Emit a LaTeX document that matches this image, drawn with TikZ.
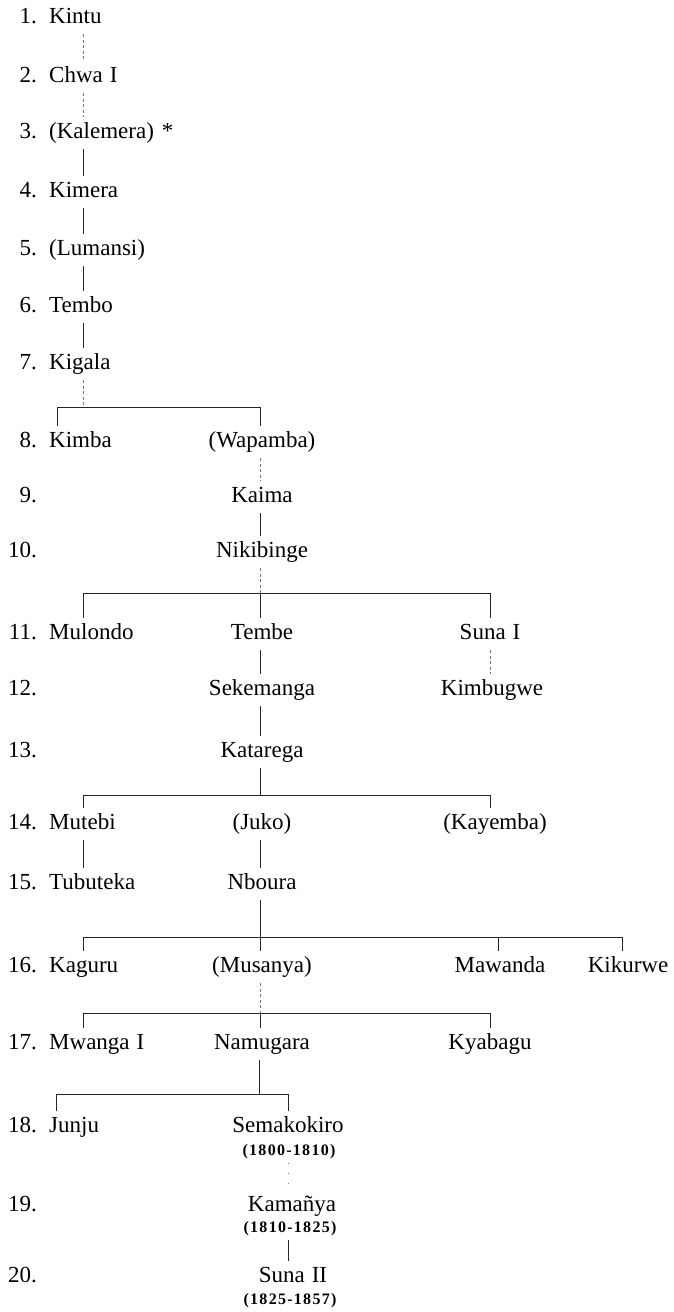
\documentclass[tikz,border=0pt]{standalone}
\usepackage{fontspec}
\setmainfont{Liberation Serif}
\newfontfamily\datefont[LetterSpace=8]{Liberation Serif}
\begin{document}
\begin{tikzpicture}[x=1pt,y=-1pt,
  nm/.style={font=\fontsize{23}{27}\selectfont, inner xsep=0pt, inner ysep=6pt, text height=15pt, text depth=5pt},
  num/.style={nm, anchor=base east},
  lft/.style={nm, anchor=base west},
  ctr/.style={nm, anchor=base},
  dt/.style={font=\datefont\bfseries\fontsize{16}{19}\selectfont, inner xsep=0pt, inner ysep=5pt, text height=11pt, text depth=3pt, anchor=base},
  sol/.style={line width=0.8pt, black!85},
  fnt/.style={line width=0.6pt, black!55, dash pattern=on 3pt off 2.5pt},
  dots/.style={line width=0.8pt, black!50, dash pattern=on 1pt off 9pt}]
\useasboundingbox (0,0) rectangle (673,1312);
% column coordinates
\coordinate (cL) at (83,0);
\coordinate (cM) at (260,0);
% row numbers
\foreach \n/\y in {1/23,2/82,3/138,4/197,5/255,6/312,7/369,8/447,9/502,10/557,11/639,12/695,13/757,14/829,15/889,16/972,17/1049,18/1132,19/1211,20/1282}
  \node[num] (n\n) at (37,\y) {\n.};
% left column
\node[lft] (kintu) at (49,23) {Kintu};
\node[lft] (chwa) at (49,82) {Chwa\hspace{0.3em}I};
\node[lft] (kalemera) at (49,138) {(Kalemera)\hspace{0.35em}*};
\node[lft] (kimera) at (49,197) {Kimera};
\node[lft] (lumansi) at (49,255) {(Lumansi)};
\node[lft] (tembo) at (49,312) {Tembo};
\node[lft] (kigala) at (49,369) {Kigala};
\node[lft] (kimba) at (49,447) {Kimba};
\node[lft] (mulondo) at (49,639) {Mulondo};
\node[lft] (mutebi) at (49,829) {Mutebi};
\node[lft] (tubuteka) at (49,889) {Tubuteka};
\node[lft] (kaguru) at (49,972) {Kaguru};
\node[lft] (mwanga) at (49,1049) {Mwanga\hspace{0.3em}I};
\node[lft] (junju) at (49,1132) {Junju};
% middle column
\node[ctr] (wapamba) at (262,447) {(Wapamba)};
\node[ctr] (kaima) at (262,502) {Kaima};
\node[ctr] (nikibinge) at (262,557) {Nikibinge};
\node[ctr] (tembe) at (262,639) {Tembe};
\node[ctr] (sekemanga) at (262,695) {Sekemanga};
\node[ctr] (katarega) at (262,757) {Katarega};
\node[ctr] (juko) at (262,829) {(Juko)};
\node[ctr] (nboura) at (262,889) {Nboura};
\node[ctr] (musanya) at (262,972) {(Musanya)};
\node[ctr] (namugara) at (262,1049) {Namugara};
\node[ctr] (semakokiro) at (288,1132) {Semakokiro};
\node[dt] (d1) at (289,1155) {(1800-1810)};
\node[ctr] (kamanya) at (292,1211) {Kamañya};
\node[dt] (d2) at (290,1232) {(1810-1825)};
\node[ctr] (suna2) at (293,1282) {Suna\hspace{0.3em}II};
\node[dt] (d3) at (290,1304) {(1825-1857)};
% right columns
\node[ctr] (suna1) at (490,639) {Suna\hspace{0.3em}I};
\node[ctr] (kimbugwe) at (492,695) {Kimbugwe};
\node[ctr] (kayemba) at (495,829) {(Kayemba)};
\node[ctr] (mawanda) at (500,972) {Mawanda};
\node[ctr] (kikurwe) at (628,972) {Kikurwe};
\node[ctr] (kyabagu) at (490,1049) {Kyabagu};
% bar coordinates
\coordinate (b1l) at (57,407);   \coordinate (b1r) at (260,407);
\coordinate (b2l) at (83,593);   \coordinate (b2m) at (260,593); \coordinate (b2r) at (490,593);
\coordinate (b3l) at (83,795);   \coordinate (b3m) at (260,795); \coordinate (b3r) at (490,795);
\coordinate (b4l) at (83,937);   \coordinate (b4m) at (260,937); \coordinate (b4a) at (498,937); \coordinate (b4r) at (622,937);
\coordinate (b5l) at (83,1013);  \coordinate (b5m) at (260,1013); \coordinate (b5r) at (490,1013);
\coordinate (b6l) at (56,1094);  \coordinate (b6m) at (259,1094); \coordinate (b6r) at (288,1094);
% generations 1-7
\draw[fnt] (kintu.south -| cL) -- (chwa.north -| cL);
\draw[fnt] (chwa.south -| cL) -- (kalemera.north -| cL);
\draw[sol] (kalemera.south -| cL) -- (kimera.north -| cL);
\draw[sol] (kimera.south -| cL) -- (lumansi.north -| cL);
\draw[sol] (lumansi.south -| cL) -- (tembo.north -| cL);
\draw[sol] (tembo.south -| cL) -- (kigala.north -| cL);
% bar 1
\draw[fnt] (kigala.south -| cL) -- (cL |- b1l);
\draw[sol] (b1l) -- (b1r);
\draw[sol] (b1l) -- (kimba.north -| b1l);
\draw[sol] (b1r) -- (wapamba.north -| b1r);
\draw[fnt] (wapamba.south -| cM) -- (kaima.north -| cM);
\draw[sol] (kaima.south -| cM) -- (nikibinge.north -| cM);
% bar 2
\draw[fnt] (nikibinge.south -| cM) -- (b2m);
\draw[sol] (b2l) -- (b2r);
\draw[sol] (b2l) -- (mulondo.north -| b2l);
\draw[sol] (b2m) -- (tembe.north -| b2m);
\draw[sol] (b2r) -- (suna1.north -| b2r);
\draw[sol] (tembe.south -| cM) -- (sekemanga.north -| cM);
\draw[fnt] (suna1.south -| b2r) -- (kimbugwe.north -| b2r);
\draw[sol] (sekemanga.south -| cM) -- (katarega.north -| cM);
% bar 3
\draw[sol] (katarega.south -| cM) -- (b3m);
\draw[sol] (b3l) -- (b3r);
\draw[sol] (b3l) -- (mutebi.north -| b3l);
\draw[sol] (b3r) -- (kayemba.north -| b3r);
\draw[sol, line width=0.6pt] (mutebi.south -| cL) -- (tubuteka.north -| cL);
\draw[sol] (juko.south -| cM) -- (nboura.north -| cM);
% bar 4
\draw[sol] (nboura.south -| cM) -- (b4m);
\draw[sol] (b4l) -- (b4r);
\draw[sol] (b4l) -- (kaguru.north -| b4l);
\draw[sol] (b4m) -- (musanya.north -| b4m);
\draw[sol, line width=0.6pt] (b4a) -- (mawanda.north -| b4a);
\draw[sol] (b4r) -- (kikurwe.north -| b4r);
% bar 5
\draw[fnt] (musanya.south -| cM) -- (b5m);
\draw[sol] (b5l) -- (b5r);
\draw[sol] (b5l) -- (mwanga.north -| b5l);
\draw[sol] (b5m) -- (namugara.north -| b5m);
\draw[sol] (b5r) -- (kyabagu.north -| b5r);
% bar 6
\draw[sol] (namugara.south -| b6m) -- (b6m);
\draw[sol] (b6l) -- (b6r);
\draw[sol] (b6l) -- (junju.north -| b6l);
\draw[sol, line width=0.6pt] (b6r) -- (semakokiro.north -| b6r);
% last generations
\draw[dots] (d1.south -| b6r) -- (kamanya.north -| b6r);
\draw[sol, line width=0.6pt] (d2.south -| b6r) -- (suna2.north -| b6r);
\end{tikzpicture}
\end{document}
